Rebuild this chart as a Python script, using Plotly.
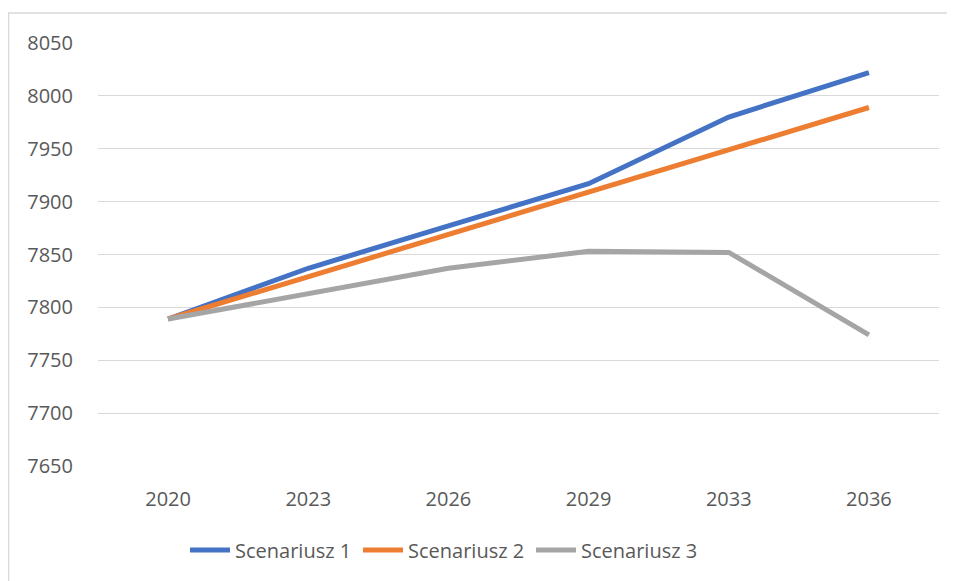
import plotly.graph_objects as go

years = ["2020", "2023", "2026", "2029", "2033", "2036"]
scenariusz_1 = [7789, 7837, 7877, 7917, 7980, 8022]
scenariusz_2 = [7789, 7829, 7869, 7908, 7949, 7989]
scenariusz_3 = [7789, 7813, 7837, 7853, 7852, 7774]
series_names = ["Scenariusz 1", "Scenariusz 2", "Scenariusz 3"]
colors = ["#4472C4", "#ED7D31", "#A5A5A5"]
y_ticks = [7650, 7700, 7750, 7800, 7850, 7900, 7950, 8000, 8050]

# page has an 8px body margin, so the figure is drawn from (8, 8)
W, H = 947, 573
L, R, T, B = 90, 16, 35, 115

fig = go.Figure()
for name, vals, col in zip(series_names, [scenariusz_1, scenariusz_2, scenariusz_3], colors):
    fig.add_trace(go.Scatter(
        x=years, y=vals, name=name, mode="lines",
        line=dict(color=col, width=5),
    ))

font_family = "Open Sans, Lato, Liberation Sans, sans-serif"
pw = W - L - R
ph = H - T - B
# chart border (top-left visible, right/bottom off page)
fig.add_shape(type="rect", xref="paper", yref="paper",
              x0=(0.5 - L) / pw, x1=(W + 5 - L) / pw,
              y0=-(B + 5) / ph, y1=1 + (T - 5) / ph,
              line=dict(color="#D9D9D9", width=1.5), layer="below")

fig.update_layout(
    width=W, height=H,
    margin=dict(l=L, r=R, t=T, b=B),
    paper_bgcolor="white", plot_bgcolor="white",
    font=dict(family=font_family, size=20, color="#595959"),
    showlegend=True,
    legend=dict(orientation="h", x=0.5 - 37 / W, xanchor="center", xref="container",
                y=(H - 542) / H, yanchor="middle", yref="container",
                font=dict(size=20, color="#595959"), itemwidth=40,
                entrywidth=118, traceorder="normal"),
    xaxis=dict(type="category", range=[-0.5, 5.5], showgrid=False, zeroline=False,
               showline=False, ticks="", ticklabelstandoff=19,
               tickfont=dict(size=20, color="#595959")),
    yaxis=dict(range=[7650, 8050], tickvals=y_ticks, showgrid=True, gridcolor="#D9D9D9",
               gridwidth=1.3, zeroline=False, showline=False, ticks="",
               ticklabelstandoff=24, tickfont=dict(size=20, color="#595959")),
)

fig.write_html("out.html")
